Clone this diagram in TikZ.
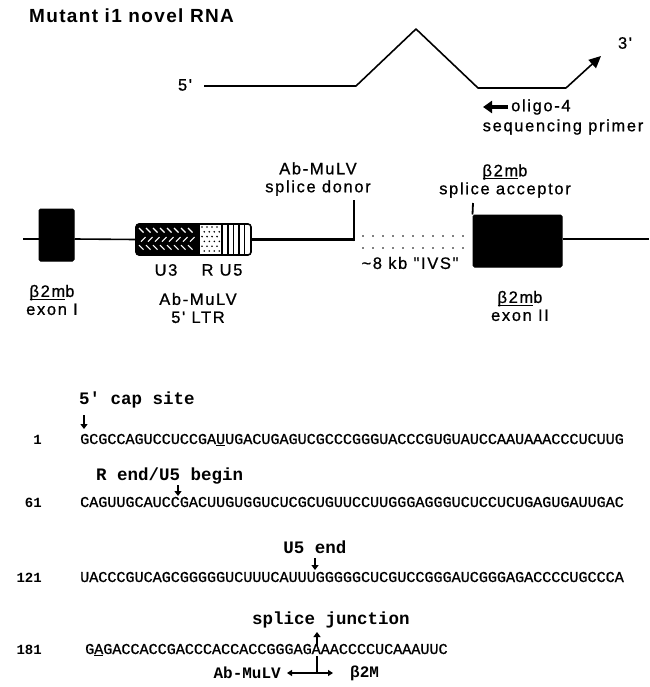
\documentclass[tikz,border=0pt]{standalone}
\usepackage{fontspec}
\setmainfont{Liberation Sans}
\newfontfamily\labfont[LetterSpace=10,FakeBold=0.8]{Liberation Sans}
\newfontfamily\ttlfont[LetterSpace=7]{Liberation Sans Bold}
\newfontfamily\monofont{Liberation Mono}
\newfontfamily\seqfont[FakeBold=1]{Liberation Mono}
\newcommand\gul[1]{\setbox0\hbox{#1}\rlap{\rule[-3pt]{\wd0}{1.1pt}}\box0}
\usetikzlibrary{arrows.meta}
\begin{document}
\begin{tikzpicture}[x=1pt,y=-1pt,
  lab/.style={font=\labfont\fontsize{16.5}{18}\selectfont, inner sep=0pt, align=center},
  ann/.style={font=\monofont\bfseries\fontsize{17.5}{18}\selectfont, inner sep=0pt, anchor=west},
  seqtxt/.style={font=\seqfont\fontsize{15.1}{16}\selectfont, inner sep=0pt, anchor=base west},
  num/.style={font=\monofont\bfseries\fontsize{14}{16}\selectfont, inner sep=0pt, anchor=base east},
  blk/.style={fill=black, draw=black, line width=1pt, rounded corners=1.5pt, inner sep=0pt},
  gthin/.style={line width=1.6pt},
  gthick/.style={line width=3.6pt},
  smallarrow/.style={line width=1.5pt, -{Triangle[length=5pt,width=7pt]}},
]
\useasboundingbox (0,0) rectangle (649,687);

% ---------- title ----------
\node[anchor=base west, inner sep=0pt, font=\ttlfont\fontsize{19}{22}\selectfont] (title) at (29,23) {Mutant i1 novel RNA};

% ---------- spliced RNA ----------
\node[lab] (five) at (185,85) {5'};
\coordinate (r1) at (204,86);
\coordinate (r2) at (356,86);
\coordinate (r3) at (416,29);
\coordinate (r4) at (478,88);
\coordinate (r5) at (566,88);
\coordinate (r6) at (601,56);
\draw[line width=1.6pt, line join=round] (r1) -- (r2) -- (r3) -- (r4) -- (r5);
\draw[line width=1.6pt, -{Triangle[length=12pt,width=11pt]}] (r5) -- (r6);
\node[lab] (three) at (625,43) {3'};
\node[lab, anchor=west] (oligo) at (511,107) {oligo-4};
\coordinate (otip) at (483,107);
\draw[line width=3.2pt, -{Triangle[length=9pt,width=12pt]}] ([xshift=-3pt]oligo.west) -- (otip);
\node[lab] (seqp) at (563,127) {sequencing primer};

% ---------- gene map ----------
\coordinate (gl) at (23,239);
\coordinate (gr) at (649,239);
\coordinate (don) at (354,200);
\coordinate (acc) at (473,203);
\node[blk, minimum width=35pt, minimum height=52pt] (ex1) at (56.5,235) {};
\node[blk, minimum width=89pt, minimum height=52pt] (ex2) at (517.5,241) {};

\begin{scope}
  \clip[rounded corners=3pt] (136,224) rectangle (251,255);
  \fill[black] (136,224) rectangle (200,255);
  \fill[white] (200,224) rectangle (251,255);
  \foreach \i in {0,...,7} {
    \foreach \j in {0,1,2} {
      \pgfmathtruncatemacro{\pp}{mod(\j,2)}
      \ifnum\pp=0
        \draw[white, line width=1.1pt] (139+7*\i,228+8.6*\j) -- ++(4.5,4.5);
      \else
        \draw[white, line width=1.1pt] (141+7*\i,233+8.6*\j) -- ++(4.5,-4.5);
      \fi
    }
  }
  \foreach \i in {0,...,3} {
    \foreach \j in {0,...,5} {
      \pgfmathsetmacro{\dx}{mod(\j,2)*2.3}
      \fill (202+\i*5+\dx,227+\j*4.8) circle (0.9pt);
    }
  }
  \draw[line width=1.5pt] (222,224) -- (222,255);
  \foreach \x in {228,233.5,239,244.5} {
    \draw[line width=1.3pt] (\x,224) -- (\x,255);
  }
\end{scope}
\node[draw, line width=1.6pt, rounded corners=3pt, minimum width=115pt, minimum height=31pt, inner sep=0pt] (ltr) at (193.5,239.5) {};

\draw[gthin] (gl) -- (ex1.west |- gl);
\draw[gthin] (ex1.east |- gl) -- (ltr.west);
\draw[gthick] (ltr.east) -- ([xshift=0.9pt]don |- ltr.east);
\draw[line width=1.8pt] ([yshift=-1.8pt]don |- ltr.east) -- (don);
\draw[line width=1.8pt] (ex2.north west) -- (acc);
\draw[line width=2.6pt] (ex2.east |- gr) -- (gr);
\foreach \x in {363,373,...,463} {
  \fill (\x,236) circle (0.8pt);
  \fill (\x,248) circle (0.8pt);
}

\node[lab] (donlab) at (318,179) {Ab-MuLV\\splice donor};
\node[lab] (acclab) at (505,181) {\gul{β2m}b\\splice acceptor};
\node[lab] (u3) at (166,270) {U3};
\node[lab] (ru5) at (222,270) {R U5};
\node[lab] (ivs) at (410,263) {\textasciitilde 8 kb "IVS"};
\node[lab] (ex1lab) at (52,300) {\gul{β2m}b\\exon I};
\node[lab] (ltrlab) at (198,308) {Ab-MuLV\\5' LTR};
\node[lab] (ex2lab) at (520,306) {\gul{β2m}b\\exon II};

% ---------- sequence ----------
\node[ann] (a1) at (79,400) {5' cap site};
\coordinate (a1s) at (84,415);
\coordinate (a1e) at (84,429);
\draw[smallarrow] (a1s) -- (a1e);
\node[num] (n1) at (42,444) {1};
\node[seqtxt] (s1) at (80,444) {GCGCCAGUCCUCCGA\underline{U}UGACUGAGUCGCCCGGGUACCCGUGUAUCCAAUAAACCCUCUUG};

\node[ann] (a2) at (96,476) {R end/U5 begin};
\coordinate (a2s) at (178,485);
\coordinate (a2e) at (178,496);
\draw[smallarrow] (a2s) -- (a2e);
\node[num] (n2) at (42,507) {61};
\node[seqtxt] (s2) at (80,507) {CAGUUGCAUCCGACUUGUGGUCUCGCUGUUCCUUGGGAGGGUCUCCUCUGAGUGAUUGAC};

\node[ann, anchor=center] (a3) at (315,547) {U5 end};
\coordinate (a3s) at (315,558);
\coordinate (a3e) at (315,570);
\draw[smallarrow] (a3s) -- (a3e);
\node[num] (n3) at (42,582) {121};
\node[seqtxt] (s3) at (80,582) {UACCCGUCAGCGGGGGUCUUUCAUUUGGGGGCUCGUCCGGGAUCGGGAGACCCCUGCCCA};

\node[ann, anchor=center] (a4) at (331,620) {splice junction};
\coordinate (jt) at (317,632);
\coordinate (jb) at (317,646);
\draw[smallarrow] (jb) -- (jt);
\node[num] (n4) at (42,654) {181};
\node[seqtxt] (s4) at (85,654) {G\underline{A}GACCACCGACCCACCACCGGGAGAAACCCCUCAAAUUC};

\coordinate (js) at (317,656);
\coordinate (jm) at (317,673);
\coordinate (jl) at (287,673);
\coordinate (jr) at (333,673);
\draw[line width=1.4pt] (js) -- (jm);
\draw[line width=1.4pt, {Triangle[length=5pt,width=6pt]}-{Triangle[length=5pt,width=6pt]}] (jl) -- (jr);
\node[ann, anchor=east, font=\monofont\bfseries\fontsize{16}{18}\selectfont] (abm) at (281,673) {Ab-MuLV};
\node[ann, font=\monofont\bfseries\fontsize{16}{18}\selectfont] (b2m) at (350,673) {β2M};
\end{tikzpicture}
\end{document}
